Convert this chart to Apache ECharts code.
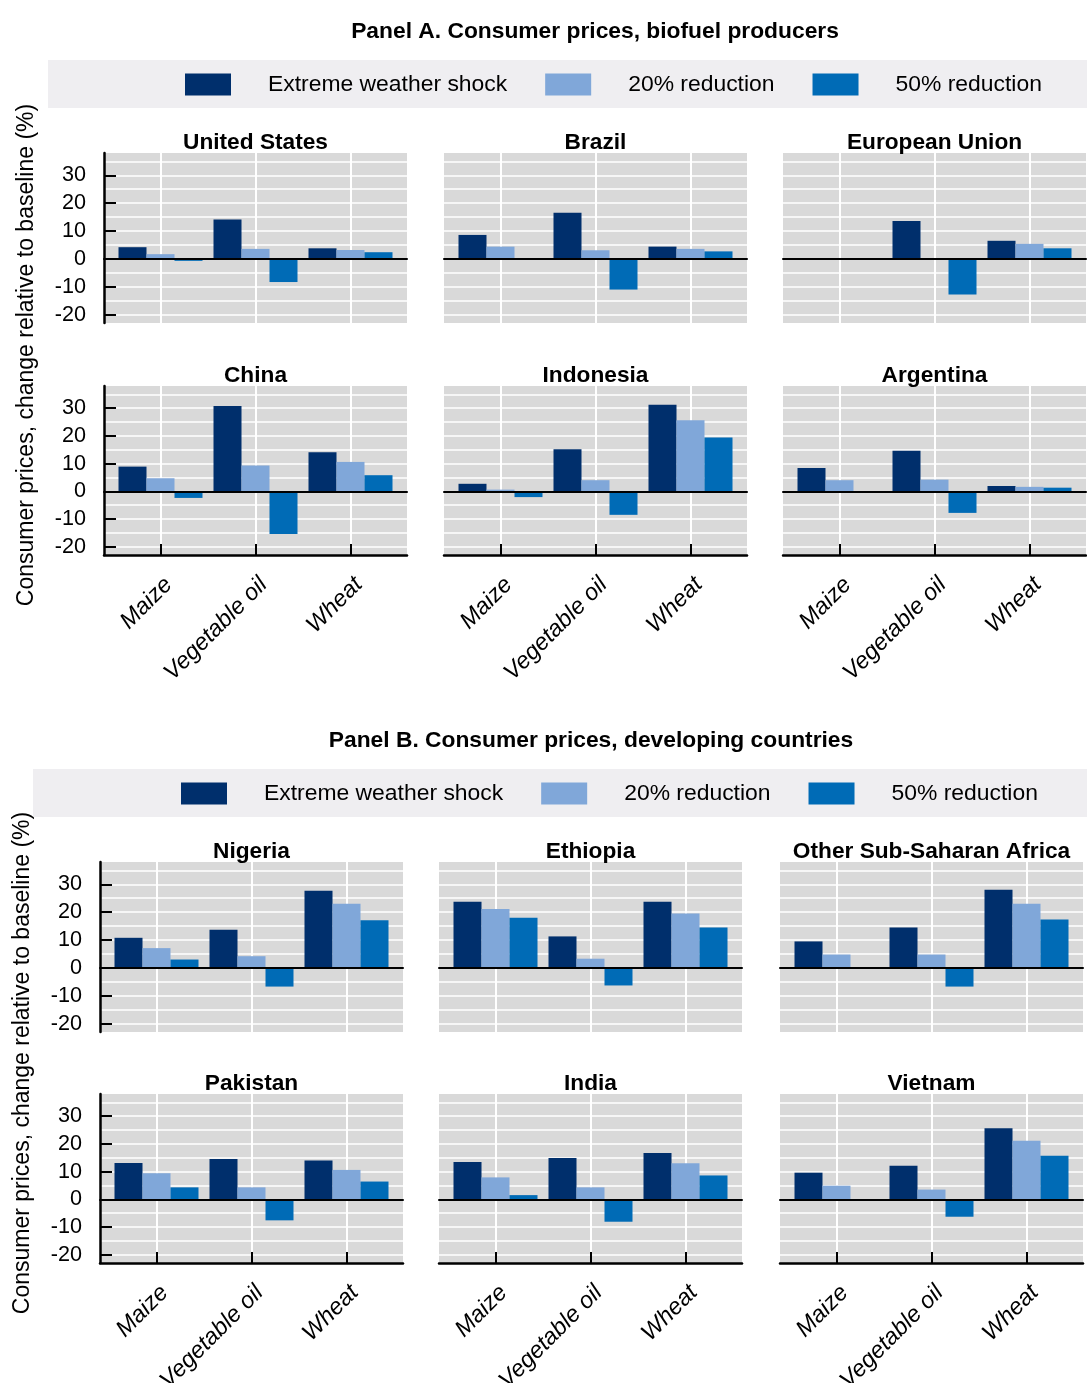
<!DOCTYPE html>
<html>
<head>
<meta charset="utf-8">
<script src="https://cdn.jsdelivr.net/npm/echarts@6/dist/echarts.min.js"></script>
<style>
  html, body { margin: 0; padding: 0; background: #fff; }
  #chart { width: 1087px; height: 1383px; }
</style>
</head>
<body>
<div id="chart"></div>
<script>
// x axis categories and legend entries
var commodities = ['Maize', 'Vegetable oil', 'Wheat'];
var scenarios = ['Extreme weather shock', '20% reduction', '50% reduction'];
var countries = ['United States', 'Brazil', 'European Union', 'China', 'Indonesia', 'Argentina',
    'Nigeria', 'Ethiopia', 'Other Sub-Saharan Africa', 'Pakistan', 'India', 'Vietnam'];
var panelTitles = ['Panel A. Consumer prices, biofuel producers', 'Panel B. Consumer prices, developing countries'];
var yName = 'Consumer prices, change relative to baseline (%)';
var yTicks = [-20, -10, 0, 10, 20, 30];

// % change relative to baseline, [maize, vegetable oil, wheat] per country
var weatherShock = [
    [4.2, 14.1, 3.8], [8.6, 16.6, 4.4], [0, 13.6, 6.5],
    [8.9, 30.8, 14.1], [2.7, 15.2, 31.2], [8.4, 14.6, 1.9],
    [10.8, 13.7, 27.7], [23.7, 11.3, 23.7], [9.5, 14.5, 28.0],
    [13.1, 14.5, 14.0], [13.5, 14.9, 16.7], [9.6, 12.1, 25.6]
];
var reduction20 = [
    [1.7, 3.6, 3.2], [4.4, 3.1, 3.6], [0, 0.2, 5.4],
    [4.7, 9.3, 10.6], [0.6, 4.0, 25.6], [4.0, 4.2, 1.6],
    [7.1, 4.2, 23.0], [21.1, 3.3, 19.5], [4.8, 4.8, 23.0],
    [9.4, 4.3, 10.6], [7.9, 4.3, 13.0], [4.9, 3.5, 21.1]
];
var reduction50 = [
    [-0.7, -8.3, 2.4], [0.2, -11.0, 2.7], [0, -12.8, 3.8],
    [-2.4, -15.4, 5.8], [-2.1, -8.5, 19.4], [-0.4, -7.8, 1.3],
    [3.0, -6.7, 17.1], [18.0, -6.3, 14.5], [-0.3, -6.7, 17.4],
    [4.3, -7.6, 6.4], [1.5, -8.1, 8.6], [-0.3, -6.3, 15.7]
];
var seriesValues = [weatherShock, reduction20, reduction50];
var colors = ['#002f6c', '#80a7d9', '#006bb6'];

// layout of the small multiples
var rowTops = [153, 386, 862, 1094];
var rowHeights = [170, 169, 170, 169];
var colLefts = [[104, 444, 783], [100, 439, 780]];
var plotWidth = 303;
var yMin = -23, yMax = 38;

var FONT = "'Liberation Sans', Arial, sans-serif";

var chart = echarts.init(document.getElementById('chart'), null, { renderer: 'canvas' });

var grids = [], xAxes = [], yAxes = [], series = [], titles = [];
// white split lines every 5 units on an axis counted from -23 in steps of 1
var splitColors = ['rgba(0,0,0,0)', 'rgba(0,0,0,0)', 'rgba(0,0,0,0)', '#ffffff', 'rgba(0,0,0,0)'];

countries.forEach(function (name, i) {
    var panel = i < 6 ? 0 : 1;
    var row = Math.floor(i / 3);
    var col = i % 3;
    var bottomRow = row % 2 === 1;
    var left = colLefts[panel][col];
    var top = rowTops[row];
    var h = rowHeights[row];

    // wide grid: grey background, horizontal lines, zero line, y axis
    var gWide = grids.length;
    grids.push({ left: left, top: top, width: plotWidth, height: h, show: true,
        backgroundColor: '#d9d9d9', borderWidth: 0, outerBoundsMode: 'none' });
    // inner grid holding the bars
    var gMain = grids.length;
    grids.push({ left: left + 9, top: top, width: plotWidth - 18, height: h, show: false,
        outerBoundsMode: 'none' });

    titles.push({
        text: name, left: left + plotWidth / 2, top: top - 22, textAlign: 'center', padding: 0,
        textStyle: { fontFamily: FONT, fontSize: 22.7, fontWeight: 'bold', color: '#000' }
    });

    // zero line on top of the bars
    xAxes.push({
        type: 'value', gridIndex: gWide, min: 0, max: 1, z: 5,
        axisLine: { show: true, onZero: true, lineStyle: { color: '#000', width: 2 } },
        axisTick: { show: false }, axisLabel: { show: false }, splitLine: { show: false }
    });
    if (bottomRow) {
        xAxes.push({
            type: 'value', gridIndex: gWide, min: 0, max: 1, position: 'bottom',
            axisLine: { show: true, onZero: false, lineStyle: { color: '#000', width: 2.5 } },
            axisTick: { show: false }, axisLabel: { show: false }, splitLine: { show: false }
        });
    }
    yAxes.push({
        type: 'value', gridIndex: gWide, position: 'left', min: yMin, max: yMax, interval: 1,
        axisLine: { show: col === 0, onZero: false, lineStyle: { color: '#000', width: 2.5 } },
        axisTick: { show: false }, axisLabel: { show: false },
        splitLine: { show: true, lineStyle: { color: splitColors, width: 1.5 } }
    });
    if (col === 0) {
        yAxes.push({
            type: 'value', gridIndex: gWide, position: 'left', offset: 0, min: yMin, max: yMax,
            axisLine: { show: false, onZero: false },
            axisTick: { show: true, inside: true, length: 12, customValues: yTicks,
                lineStyle: { color: '#000', width: 2 } },
            axisLabel: { show: true, customValues: yTicks, margin: 18,
                fontFamily: FONT, fontSize: 21.6, color: '#000' },
            splitLine: { show: false }
        });
    }

    var xi = xAxes.length;
    xAxes.push({
        type: 'category', gridIndex: gMain, data: commodities, boundaryGap: true,
        axisLine: { show: false, onZero: false },
        axisTick: { show: bottomRow, alignWithLabel: true, inside: true, length: 11,
            lineStyle: { color: '#000', width: 2 } },
        axisLabel: { show: bottomRow, rotate: 45, interval: 0, margin: 18, verticalAlign: 'top',
            fontFamily: FONT, fontSize: 23.5, fontStyle: 'italic', color: '#000' },
        splitLine: { show: true, alignWithLabel: true, lineStyle: { color: '#ffffff', width: 2 } }
    });
    var yi = yAxes.length;
    yAxes.push({ type: 'value', gridIndex: gMain, min: yMin, max: yMax, show: false });

    scenarios.forEach(function (s, k) {
        series.push({
            type: 'bar', name: s, xAxisIndex: xi, yAxisIndex: yi,
            data: seriesValues[k][i], barWidth: 28, barGap: '0%',
            itemStyle: { color: colors[k] }
        });
    });
});

titles.push({ text: panelTitles[0], left: 595, top: 20, textAlign: 'center', padding: 0,
    textStyle: { fontFamily: FONT, fontSize: 22.8, fontWeight: 'bold', color: '#000' } });
titles.push({ text: panelTitles[1], left: 591, top: 729, textAlign: 'center', padding: 0,
    textStyle: { fontFamily: FONT, fontSize: 22.8, fontWeight: 'bold', color: '#000' } });

function legendAt(left, top) {
    return {
        data: scenarios, left: left, top: top, padding: 0, icon: 'rect',
        itemWidth: 46, itemHeight: 22, itemGap: 38, selectedMode: false,
        textStyle: { fontFamily: FONT, fontSize: 22.9, color: '#000', padding: [0, 0, 0, 32] }
    };
}

function yNameText(x, y) {
    return {
        type: 'text', x: x, y: y, rotation: Math.PI / 2,
        style: { text: yName, fontFamily: FONT, fontSize: 23, fill: '#000',
            align: 'center', verticalAlign: 'middle', textAlign: 'center', textVerticalAlign: 'middle' }
    };
}

var option = {
    animation: false,
    backgroundColor: '#fff',
    title: titles,
    legend: [legendAt(185, 73), legendAt(181, 782)],
    graphic: [
        { type: 'rect', shape: { x: 48, y: 60, width: 1039, height: 48 }, style: { fill: '#efeef1' }, z: -10 },
        { type: 'rect', shape: { x: 33, y: 769, width: 1054, height: 48 }, style: { fill: '#efeef1' }, z: -10 },
        yNameText(27, 355),
        yNameText(23, 1063)
    ],
    grid: grids,
    xAxis: xAxes,
    yAxis: yAxes,
    series: series
};

chart.setOption(option);
</script>
</body>
</html>
